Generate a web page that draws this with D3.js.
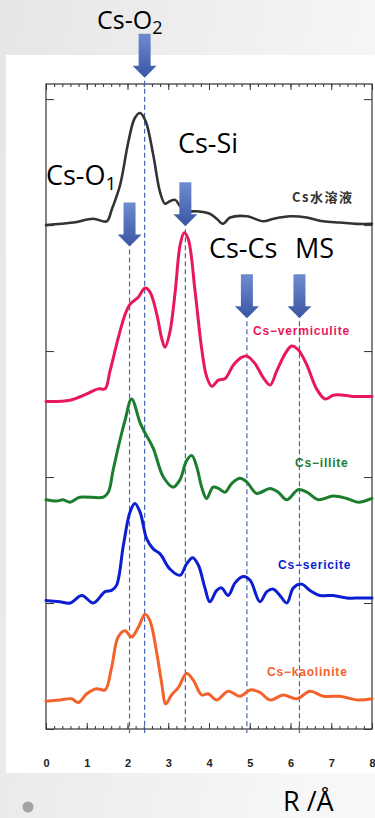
<!DOCTYPE html>
<html>
<head>
<meta charset="utf-8">
<script src="https://cdn.jsdelivr.net/npm/d3@7"></script>
<style>
  html, body { margin: 0; padding: 0; background: #eeeeee; }
  svg { display: block; }
</style>
</head>
<body>
<svg id="chart"></svg>
<script>
const WIDTH = 375, HEIGHT = 818;

// ---- values: [R (Å), intensity in axis units] ----
const xTicks = [0, 1, 2, 3, 4, 5, 6, 7, 8];
const yTicks = [0, 1, 2, 3, 4, 5];

const csWater = [[0.00,4.00],[0.67,4.02],[1.16,4.05],[1.49,4.03],[1.61,4.12],[1.82,4.32],[2.02,4.66],[2.18,4.85],
  [2.31,4.89],[2.45,4.82],[2.63,4.56],[2.80,4.26],[2.92,4.17],[3.04,4.19],[3.17,4.20],[3.29,4.15],[3.45,4.11],
  [3.70,4.11],[4.02,4.09],[4.19,4.05],[4.34,4.01],[4.52,4.06],[4.93,4.07],[5.33,4.03],[5.58,4.05],[5.99,4.07],
  [6.40,4.06],[6.80,4.03],[7.21,4.02],[7.62,4.01],[8.00,4.01]];

const csVermiculite = [[0.00,2.60],[0.59,2.61],[1.00,2.66],[1.28,2.70],[1.45,2.70],[1.57,2.84],[1.77,3.10],[1.94,3.29],
  [2.06,3.37],[2.27,3.43],[2.43,3.50],[2.55,3.47],[2.72,3.29],[2.84,3.10],[2.92,3.03],[3.04,3.15],[3.17,3.47],
  [3.29,3.84],[3.39,3.94],[3.49,3.89],[3.66,3.47],[3.82,3.02],[3.94,2.80],[4.07,2.72],[4.23,2.77],[4.39,2.78],
  [4.60,2.89],[4.80,2.95],[4.93,2.96],[5.13,2.90],[5.33,2.79],[5.50,2.73],[5.66,2.84],[5.87,2.98],[6.03,3.04],
  [6.19,3.01],[6.40,2.89],[6.64,2.70],[6.85,2.62],[7.05,2.65],[7.30,2.65],[7.54,2.64],[8.00,2.64]];

const csIllite = [[0.00,1.82],[0.26,1.81],[0.42,1.82],[0.59,1.80],[0.83,1.84],[1.41,1.84],[1.53,1.88],[1.65,2.06],
  [1.82,2.30],[1.94,2.45],[2.10,2.62],[2.31,2.43],[2.43,2.35],[2.63,2.23],[2.88,2.00],[3.12,1.92],[3.29,1.98],
  [3.45,2.13],[3.58,2.17],[3.70,2.08],[3.82,1.92],[3.94,1.83],[4.10,1.92],[4.23,1.91],[4.39,1.88],[4.56,1.95],
  [4.76,1.99],[4.93,1.96],[5.17,1.87],[5.50,1.91],[5.70,1.88],[5.91,1.82],[6.19,1.90],[6.40,1.88],[6.68,1.82],
  [7.05,1.85],[7.38,1.83],[7.66,1.80],[8.00,1.83]];

const csSericite = [[0.00,1.02],[0.34,1.01],[0.59,1.00],[0.88,1.06],[1.16,1.00],[1.45,1.09],[1.61,1.10],[1.73,1.14],
  [1.90,1.46],[2.06,1.72],[2.18,1.79],[2.31,1.72],[2.47,1.51],[2.63,1.43],[2.80,1.39],[3.04,1.27],[3.29,1.22],
  [3.45,1.31],[3.60,1.36],[3.74,1.30],[3.90,1.12],[4.02,1.01],[4.19,1.10],[4.31,1.12],[4.47,1.06],[4.64,1.16],
  [4.84,1.21],[5.01,1.18],[5.25,1.01],[5.42,1.09],[5.58,1.11],[5.74,1.06],[5.91,1.00],[6.07,1.12],[6.27,1.15],
  [6.48,1.10],[6.72,1.06],[7.05,1.06],[7.38,1.04],[7.71,1.04],[8.00,1.04]];

const csKaolinite = [[0.00,0.22],[0.34,0.23],[0.63,0.24],[0.79,0.21],[1.00,0.28],[1.24,0.32],[1.45,0.31],[1.61,0.49],
  [1.77,0.73],[1.94,0.78],[2.10,0.73],[2.27,0.81],[2.43,0.91],[2.55,0.86],[2.72,0.60],[2.84,0.36],[2.94,0.20],
  [3.08,0.27],[3.25,0.33],[3.45,0.44],[3.61,0.39],[3.82,0.27],[3.98,0.28],[4.19,0.23],[4.47,0.30],[4.76,0.26],
  [5.01,0.31],[5.25,0.29],[5.50,0.23],[5.82,0.27],[6.15,0.24],[6.48,0.30],[6.80,0.26],[7.21,0.26],[7.66,0.23],
  [8.00,0.24]];

const seriesData = [csWater, csVermiculite, csIllite, csSericite, csKaolinite];
const seriesNames = ['Cs水溶液', 'Cs−vermiculite', 'Cs−illite', 'Cs−sericite', 'Cs−kaolinite'];
const seriesColours = ['#333333', '#e8195b', '#1b7d2d', '#0b1fd0', '#f4622c'];

// marked shells: R position and the level (axis units) where each arrow points
const peakNames = ['Cs-O|2', 'Cs-O|1', 'Cs-Si', 'Cs-Cs', 'MS'];
const peakR = [2.42, 2.05, 3.42, 4.93, 6.22];
const peakTip = [5.17, 3.83, 3.99, 3.26, 3.26];

// ---- layout ----
const plot = {left: 46, right: 372, top: 84, bottom: 729};
const panel = {x: 6, y: 55, w: 375, h: 718};
const peakLabelPos = [[97, 29, 25], [46, 185, 27], [178, 153, 27], [209, 258, 27], [295, 258, 27]];
const seriesLabelPos = [[292, 202], [253, 335], [295, 467], [278, 569], [267, 676]];

const svg = d3.select('#chart')
    .attr('width', WIDTH)
    .attr('height', HEIGHT)
    .attr('viewBox', `0 0 ${WIDTH} ${HEIGHT}`);

const defs = svg.append('defs');

const bg = defs.append('linearGradient').attr('id', 'bg')
    .attr('x1', 0).attr('y1', 0).attr('x2', 1).attr('y2', 0.3);
bg.append('stop').attr('offset', '0%').attr('stop-color', '#e6e6e6');
bg.append('stop').attr('offset', '100%').attr('stop-color', '#f7f7f7');

const arrowFill = defs.append('linearGradient').attr('id', 'arrowFill')
    .attr('x1', 0).attr('y1', 0).attr('x2', 0).attr('y2', 1);
arrowFill.append('stop').attr('offset', '0%').attr('stop-color', '#6f8bd0');
arrowFill.append('stop').attr('offset', '100%').attr('stop-color', '#3a56a4');

// slide background + white picture panel
svg.append('rect').attr('width', WIDTH).attr('height', HEIGHT).attr('fill', 'url(#bg)');
svg.append('rect')
    .attr('x', panel.x).attr('y', panel.y)
    .attr('width', panel.w).attr('height', panel.h)
    .attr('fill', '#ffffff');

const x = d3.scaleLinear().domain([0, 8]).range([plot.left, plot.right]);
const y = d3.scaleLinear().domain([0, 5.12]).range([plot.bottom, plot.top]);

/**
 * Helper to draw one axis and tidy it up: no domain path, dark tick strokes.
 */
function drawAxis(axis, tx, ty) {
    const g = svg.append('g')
        .attr('transform', `translate(${tx}, ${ty})`)
        .call(axis);
    g.select('.domain').remove();
    g.selectAll('line').attr('stroke', '#333').attr('stroke-width', 1);
    return g;
}

const minorX = d3.range(0, 8.001, 0.2);
// bottom + top: minor and major ticks, pointing inwards
drawAxis(d3.axisBottom(x).tickValues(minorX).tickSize(-3).tickSizeOuter(0).tickFormat(''), 0, plot.bottom);
drawAxis(d3.axisBottom(x).tickValues(xTicks).tickSize(-6).tickSizeOuter(0).tickFormat(''), 0, plot.bottom);
drawAxis(d3.axisTop(x).tickValues(minorX).tickSize(-3).tickSizeOuter(0).tickFormat(''), 0, plot.top);
drawAxis(d3.axisTop(x).tickValues(xTicks).tickSize(-6).tickSizeOuter(0).tickFormat(''), 0, plot.top);
// left + right
drawAxis(d3.axisLeft(y).tickValues(yTicks).tickSize(-8).tickSizeOuter(0).tickFormat(''), plot.left, 0);
drawAxis(d3.axisRight(y).tickValues(yTicks).tickSize(-8).tickSizeOuter(0).tickFormat(''), plot.right, 0);

// tick labels
const labels = drawAxis(d3.axisBottom(x).tickValues(xTicks).tickSize(0).tickPadding(30).tickFormat(d3.format('d')), 0, plot.bottom);
labels.selectAll('text')
    .attr('font-family', '"Liberation Sans", Arial, sans-serif')
    .attr('font-size', '11px')
    .attr('font-weight', 'bold')
    .attr('fill', '#222');

// frame
svg.append('rect')
    .attr('x', plot.left).attr('y', plot.top)
    .attr('width', plot.right - plot.left)
    .attr('height', plot.bottom - plot.top)
    .attr('fill', 'none')
    .attr('stroke', '#333')
    .attr('stroke-width', 1.2);

// dashed guide lines under each arrow
svg.append('g').selectAll('line')
    .data(peakR)
    .join('line')
    .attr('x1', d => x(d)).attr('x2', d => x(d))
    .attr('y1', (d, i) => y(peakTip[i]) + 3)
    .attr('y2', plot.bottom + 4)
    .attr('stroke', '#4a66b0')
    .attr('stroke-width', 1.2)
    .attr('stroke-dasharray', '5,3');

// spectra
const line = d3.line()
    .x(d => x(d[0]))
    .y(d => y(d[1]))
    .curve(d3.curveCatmullRom.alpha(0.5));

svg.append('g').selectAll('path')
    .data(seriesData)
    .join('path')
    .attr('d', line)
    .attr('fill', 'none')
    .attr('stroke', (d, i) => seriesColours[i])
    .attr('stroke-width', (d, i) => i === 0 ? 2.6 : 3)
    .attr('stroke-linejoin', 'round')
    .attr('stroke-linecap', 'round');

// series labels
svg.append('g').selectAll('text')
    .data(seriesNames)
    .join('text')
    .attr('x', (d, i) => seriesLabelPos[i][0])
    .attr('y', (d, i) => seriesLabelPos[i][1])
    .attr('font-family', (d, i) => i === 0 ? '"Noto Sans CJK JP", sans-serif' : '"Liberation Sans", Arial, sans-serif')
    .attr('font-size', (d, i) => i === 0 ? '13px' : '12px')
    .attr('font-weight', 'bold')
    .attr('letter-spacing', (d, i) => i === 0 ? '1.5px' : '0.8px')
    .attr('fill', (d, i) => seriesColours[i])
    .text(d => d);

// block arrows
const arrowLen = 44, headLen = 12, shaftHalf = 6, headHalf = 12;
svg.append('g').selectAll('path')
    .data(peakR)
    .join('path')
    .attr('d', (d, i) => {
        const cx = x(d), tip = y(peakTip[i]), top = tip - arrowLen, neck = tip - headLen;
        return `M${cx - shaftHalf},${top}L${cx + shaftHalf},${top}L${cx + shaftHalf},${neck}` +
            `L${cx + headHalf},${neck}L${cx},${tip}L${cx - headHalf},${neck}L${cx - shaftHalf},${neck}Z`;
    })
    .attr('fill', 'url(#arrowFill)');

// shell labels (with subscripts after "|")
peakNames.forEach((name, i) => {
    const [px, py, fs] = peakLabelPos[i];
    const [main, sub] = name.split('|');
    const t = svg.append('text')
        .attr('x', px)
        .attr('y', py)
        .attr('font-family', '"Open Sans", sans-serif')
        .attr('font-size', `${fs}px`)
        .attr('fill', '#000');
    t.append('tspan').text(main);
    if (sub) {
        t.append('tspan')
            .attr('dy', '0.28em')
            .attr('font-size', `${Math.round(fs * 0.72)}px`)
            .text(sub);
    }
});

// axis title and slide bullet
svg.append('text')
    .attr('x', 283)
    .attr('y', 811)
    .attr('font-family', '"Open Sans", sans-serif')
    .attr('font-size', '27px')
    .attr('fill', '#000')
    .text('R /Å');

svg.append('circle')
    .attr('cx', 28).attr('cy', 807).attr('r', 5.5)
    .attr('fill', '#a3a3a3');
</script>
</body>
</html>
